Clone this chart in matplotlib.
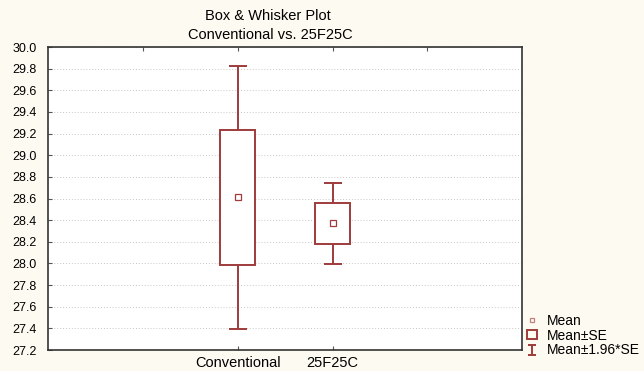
import matplotlib
matplotlib.use("Agg")
import matplotlib.pyplot as plt
from matplotlib.lines import Line2D
from matplotlib.patches import Patch
from matplotlib.path import Path

plt.rcParams['font.family'] = ['Liberation Sans', 'DejaVu Sans']

groups = ["Conventional", "25F25C"]
positions = [2, 3]
means = [28.61, 28.37]
se = [0.62, 0.19]
z = 1.96

red = "#9e3b3b"
bg = "#fdfbf1"

fig = plt.figure(figsize=(6.44, 3.71), dpi=100, facecolor=bg)
ax = fig.add_axes([0.0753, 0.0566, 0.7353, 0.8167])
ax.set_facecolor("white")

half_box = 0.185
cap = 0.095

for x, m, s in zip(positions, means, se):
    ax.errorbar(x, m, yerr=z * s, fmt="none", ecolor=red, elinewidth=1.4,
                capsize=0, zorder=2)
    ax.hlines([m - z * s, m + z * s], x - cap, x + cap, colors=red,
              linewidth=1.4, zorder=2)
ax.bar(positions, [2 * s for s in se], bottom=[m - s for m, s in zip(means, se)],
       width=2 * half_box, facecolor="white", edgecolor=red, linewidth=1.4,
       zorder=3)
ax.plot(positions, means, linestyle="none", marker="s", markersize=4,
        markerfacecolor="none", markeredgecolor=red, markeredgewidth=0.9,
        zorder=4)

ax.set_xlim(0, 5)
ax.set_ylim(27.2, 30.0)
yt = [27.2 + 0.2 * i for i in range(15)]
ax.set_yticks(yt)
ax.set_yticklabels([f"{v:.1f}" for v in yt], fontsize=9)
ax.set_xticks(positions)
ax.set_xticklabels(groups, fontsize=10.5)
ax.tick_params(direction="in", length=3, width=0.8, color="#555555")
ax.tick_params(axis="x", pad=4)
ax.tick_params(axis="y", pad=8.5)
top = ax.secondary_xaxis("top")
top.set_xticks([1, 2, 3, 4])
top.tick_params(direction="in", length=3, width=0.8, color="#555555",
                labeltop=False)
for sp in ax.spines.values():
    sp.set_color("#333333")
    sp.set_linewidth(1.2)
top.spines["top"].set_visible(False)

ax.grid(axis="y", linestyle=(0, (1, 2)), color="#c8c8c8", linewidth=0.7,
        zorder=0)
ax.set_axisbelow(True)

fig.text(0.416, 0.957, "Box & Whisker Plot", ha="center", va="center",
         fontsize=10.5)
fig.text(0.419, 0.906, "Conventional vs. 25F25C", ha="center", va="center",
         fontsize=10.5)

whisker_marker = Path([(-0.8, 1), (0.8, 1), (0, 1), (0, -1), (-0.8, -1), (0.8, -1)],
                      [Path.MOVETO, Path.LINETO, Path.MOVETO, Path.LINETO,
                       Path.MOVETO, Path.LINETO])
handles = [
    Line2D([], [], linestyle="none", marker="s", markersize=3,
           markerfacecolor="none", markeredgecolor="#c08080", markeredgewidth=0.9),
    Patch(facecolor="none", edgecolor=red, linewidth=1.4),
    Line2D([], [], linestyle="none", marker=whisker_marker, markersize=7.5,
           markerfacecolor="none", markeredgecolor=red, markeredgewidth=1.4),
]
fig.legend(handles, ["Mean", "Mean\u00b1SE", "Mean\u00b11.96*SE"],
           loc="lower left", bbox_to_anchor=(0.818, 0.037), frameon=False,
           fontsize=10, handlelength=0.75, handleheight=0.6, handletextpad=0.7,
           labelspacing=0.05, borderaxespad=0, borderpad=0)

fig.savefig("out.png", dpi=100, facecolor=bg)
